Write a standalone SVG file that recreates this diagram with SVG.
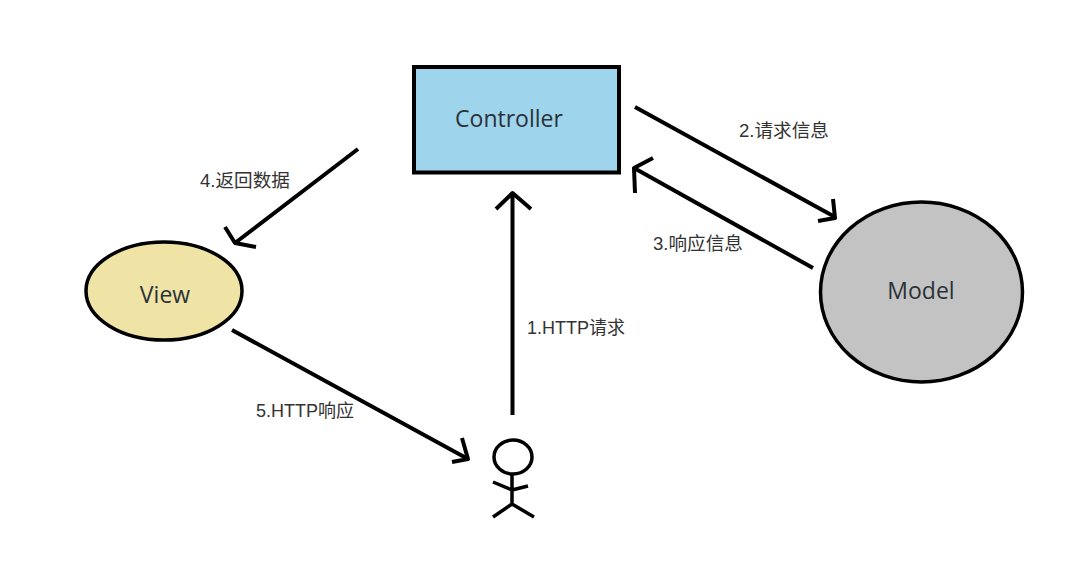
<svg xmlns="http://www.w3.org/2000/svg" width="1088" height="561" viewBox="0 0 1088 561">
<style>
.e{stroke:#000;stroke-width:4;fill:none;stroke-linejoin:round}
.n{font-family:"Open Sans","Liberation Sans","Noto Sans CJK SC",sans-serif;font-size:23px;fill:#2a3238;text-anchor:middle}
.l{font-family:"Liberation Sans","Noto Sans CJK SC",sans-serif;font-size:18px;fill:#333}
.c{font-size:18.6px}
</style>
<rect width="1088" height="561" fill="#fff"/>
<g id="controller"><rect x="414" y="67" width="205" height="105.500" fill="#9fd5ec" stroke="#000" stroke-width="4"/><text class="n" x="509" y="127">Controller</text></g>
<g id="view"><ellipse cx="164" cy="291" rx="78" ry="49" fill="#efe4a6" stroke="#000" stroke-width="3.500"/><text class="n" x="165" y="303">View</text></g>
<g id="model"><ellipse cx="921.500" cy="292" rx="101" ry="90" fill="#c3c3c3" stroke="#000" stroke-width="3.500"/><text class="n" x="921" y="299">Model</text></g>
<g id="user" class="e" style="stroke-width:3.500"><ellipse cx="513" cy="457" rx="19" ry="17"/><path d="M512 475V504M493 482L512 490L528 486M493 517L512 504L534 517"/></g>
<g id="connectors" class="e">
<path d="M512.500 415V194M496 209L512.500 193L531 209"/>
<path d="M635 107L835 217M833 199L835 218L818 221"/>
<path d="M813 268L634 168M653 158L634 168L635 193"/>
<path d="M358 149L235 243M225 227L235 243L256 247"/>
<path d="M232 330L468 459M462 438L468 459L452 462"/>
</g>
<g id="labels">
<text class="l" x="527" y="334">1.HTTP请求</text>
<text class="l c" x="739" y="137">2.请求信息</text>
<text class="l c" x="653" y="250">3.响应信息</text>
<text class="l c" x="200" y="187">4.返回数据</text>
<text class="l" x="256" y="417">5.HTTP响应</text>
</g>
</svg>
